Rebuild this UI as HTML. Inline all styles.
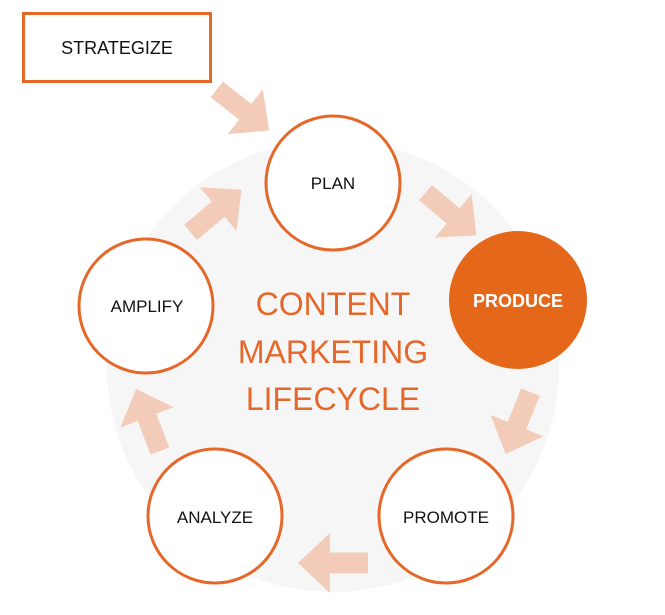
<!DOCTYPE html>
<html><head><style>
body{margin:0;background:#fff;}
svg{display:block;}
text{font-family:"Liberation Sans",sans-serif;}
</style></head><body>
<svg width="665" height="615" viewBox="0 0 665 615">
<circle cx="333" cy="366" r="226" fill="#f6f6f6"/>
<defs>
<polygon id="ar" points="-35,-10.5 3,-10.5 3,-30 35,0 3,30 3,10.5 -35,10.5"/>
</defs>
<g fill="#f3ccb9">
<use href="#ar" transform="translate(243,110) rotate(38) scale(0.95)"/>
<use href="#ar" transform="translate(451,214) rotate(40) scale(0.95)"/>
<use href="#ar" transform="translate(518,423) rotate(112) scale(0.95)"/>
<use href="#ar" transform="translate(333,563) rotate(180)"/>
<use href="#ar" transform="translate(148,420) rotate(249) scale(0.95)"/>
<use href="#ar" transform="translate(216,211) rotate(-40) scale(0.95)"/>
</g>
<rect x="23.5" y="13.5" width="187" height="68" fill="#fff" stroke="#e5682a" stroke-width="3"/>
<text x="117" y="54" font-size="18" text-anchor="middle" fill="#111">STRATEGIZE</text>
<g fill="#fff" stroke="#e5682a" stroke-width="3">
<circle cx="333" cy="183" r="67"/>
<circle cx="146" cy="306" r="67"/>
<circle cx="215" cy="516" r="67"/>
<circle cx="446" cy="516" r="67"/>
</g>
<circle cx="518" cy="300" r="69" fill="#e5671a"/>
<g font-size="17" text-anchor="middle" fill="#111">
<text x="333" y="189">PLAN</text>
<text x="147" y="312">AMPLIFY</text>
<text x="215" y="523">ANALYZE</text>
<text x="446" y="523">PROMOTE</text>
</g>
<text x="518" y="307" font-size="18" font-weight="bold" text-anchor="middle" fill="#fff">PRODUCE</text>
<g font-size="32" text-anchor="middle" fill="#e5682a">
<text x="333" y="315">CONTENT</text>
<text x="333" y="363">MARKETING</text>
<text x="333" y="410">LIFECYCLE</text>
</g>
</svg>
</body></html>
